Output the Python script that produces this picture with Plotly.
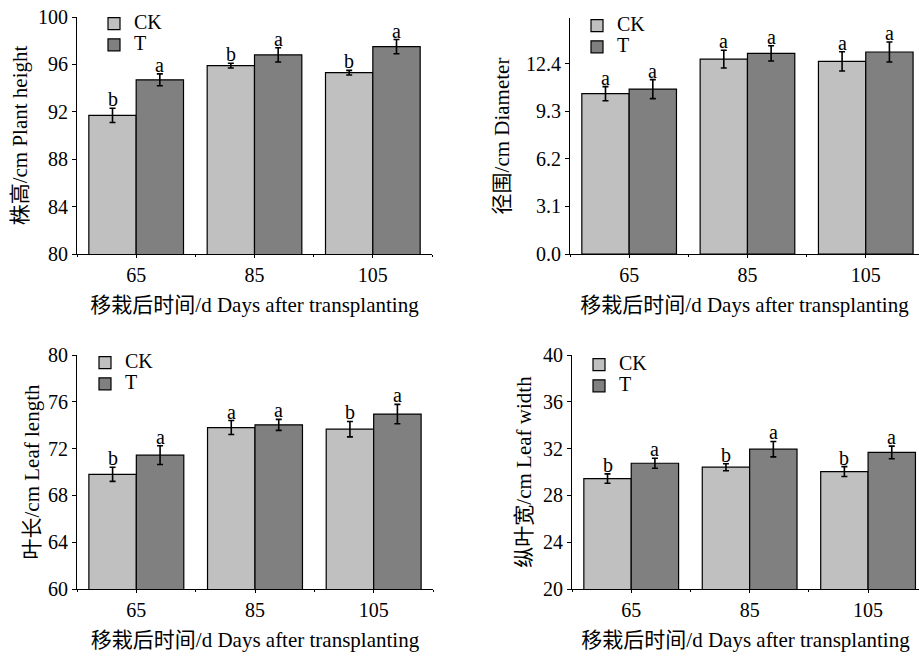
import plotly.graph_objects as go

# ---------------- data ----------------
days = ["65", "85", "105"]
series_names = ["CK", "T"]

height_ck = [91.7, 95.9, 95.3]
height_ck_err = [0.6, 0.2, 0.2]
height_t = [94.7, 96.8, 97.5]
height_t_err = [0.5, 0.6, 0.6]
height_ck_sig = ["b", "b", "b"]
height_t_sig = ["a", "a", "a"]

diam_ck = [10.46, 12.72, 12.57]
diam_ck_err = [0.46, 0.58, 0.63]
diam_t = [10.76, 13.09, 13.18]
diam_t_err = [0.62, 0.50, 0.65]
diam_ck_sig = ["a", "a", "a"]
diam_t_sig = ["a", "a", "a"]

len_ck = [69.8, 73.8, 73.66]
len_ck_err = [0.6, 0.6, 0.66]
len_t = [71.44, 74.03, 74.95]
len_t_err = [0.8, 0.47, 0.83]
len_ck_sig = ["b", "a", "b"]
len_t_sig = ["a", "a", "a"]

wid_ck = [29.44, 30.41, 30.04]
wid_ck_err = [0.4, 0.3, 0.42]
wid_t = [30.75, 31.95, 31.67]
wid_t_err = [0.43, 0.66, 0.54]
wid_ck_sig = ["b", "b", "b"]
wid_t_sig = ["a", "a", "a"]

y_titles = ["株高/cm Plant height", "径围/cm Diameter",
            "叶长/cm Leaf length", "纵叶宽/cm Leaf width"]
x_title = "移栽后时间/d Days after transplanting"

y_ticks_height = [80, 84, 88, 92, 96, 100]
y_ticks_diam = [0.0, 3.1, 6.2, 9.3, 12.4]
y_ticks_len = [60, 64, 68, 72, 76, 80]
y_ticks_wid = [20, 24, 28, 32, 36, 40]

# ---------------- styling ----------------
W, H = 919, 656
FONT = "Liberation Serif, 'Noto Sans CJK SC', serif"
C_CK = "#c0c0c0"
C_T = "#808080"

def px_x(p):
    return p / W

def px_y(p):
    return 1 - p / H

panels = [
    dict(ck=height_ck, cke=height_ck_err, t=height_t, te=height_t_err,
         cks=height_ck_sig, ts=height_t_sig, yt=y_titles[0], ticks=y_ticks_height,
         yrange=[80, 100], fmt=None, ystand=4,
         xdom=[77, 432], ydom=[254, 17], xrange=[-0.5, 2.5], legend=(94, 8)),
    dict(ck=diam_ck, cke=diam_ck_err, t=diam_t, te=diam_t_err,
         cks=diam_ck_sig, ts=diam_t_sig, yt=y_titles[1], ticks=y_ticks_diam,
         yrange=[0, 15.4], fmt=".1f", ystand=10,
         xdom=[570, 919], ydom=[254, 18], xrange=[-0.5, 2.45], legend=(577, 10)),
    dict(ck=len_ck, cke=len_ck_err, t=len_t, te=len_t_err,
         cks=len_ck_sig, ts=len_t_sig, yt=y_titles[2], ticks=y_ticks_len,
         yrange=[60, 80], fmt=None, ystand=2,
         xdom=[77, 433], ydom=[589, 355], xrange=[-0.5, 2.5], legend=(85, 347)),
    dict(ck=wid_ck, cke=wid_ck_err, t=wid_t, te=wid_t_err,
         cks=wid_ck_sig, ts=wid_t_sig, yt=y_titles[3], ticks=y_ticks_wid,
         yrange=[20, 40], fmt=None, ystand=5,
         xdom=[572, 919], ydom=[589, 355], xrange=[-0.5, 2.43], legend=(579, 349)),
]

fig = go.Figure()
xpos = list(range(len(days)))
annotations = []
layout_extra = {}

for i, p in enumerate(panels):
    n = "" if i == 0 else str(i + 1)
    xa, ya = "x" + n, "y" + n
    lg = "legend" + n
    for name, vals, errs, col in [(series_names[0], p["ck"], p["cke"], C_CK),
                                  (series_names[1], p["t"], p["te"], C_T)]:
        fig.add_trace(go.Bar(
            x=xpos, y=vals,
            name=f"<span style='font-size:20px'>{name}</span>",
            xaxis=xa, yaxis=ya, legend=lg,
            marker=dict(color=col, line=dict(color="black", width=1.2)),
            error_y=dict(type="data", array=errs, color="black", thickness=1.6, width=3),
            offsetgroup=name,
        ))
    # significance letters
    for j in xpos:
        for off, vals, errs, sig in [(-0.2, p["ck"], p["cke"], p["cks"]),
                                     (0.2, p["t"], p["te"], p["ts"])]:
            annotations.append(dict(
                x=j + off, y=vals[j] + errs[j], xref=xa, yref=ya,
                text=sig[j], showarrow=False, yanchor="bottom", yshift=-4,
                font=dict(family=FONT, size=20, color="black")))
    xd = [px_x(p["xdom"][0]), px_x(p["xdom"][1])]
    yd = [px_y(p["ydom"][0]), px_y(p["ydom"][1])]
    ticktext = [f"{v:.1f}" for v in p["ticks"]] if p["fmt"] else [str(v) for v in p["ticks"]]
    layout_extra["xaxis" + n] = dict(
        domain=xd, range=p["xrange"], anchor=ya, automargin=False,
        tickvals=xpos, ticktext=days, ticks="outside", ticklen=3, tickwidth=1,
        tickcolor="black", showline=True, linecolor="black", linewidth=1.2,
        showgrid=False, zeroline=False,
        minor=dict(ticks="outside", ticklen=2, tickcolor="black", tick0=0.5, dtick=1, showgrid=False),
        title=dict(text=x_title, font=dict(family=FONT, size=21, color="black"), standoff=12),
        tickfont=dict(family=FONT, size=20, color="black"),
    )
    layout_extra["yaxis" + n] = dict(
        domain=yd, range=p["yrange"], anchor=xa, automargin=False,
        tickvals=p["ticks"], ticktext=ticktext, ticks="outside", ticklen=4, tickwidth=1,
        tickcolor="black", showline=True, linecolor="black", linewidth=1.2,
        showgrid=False, zeroline=False,
        title=dict(text=p["yt"], font=dict(family=FONT, size=21, color="black"),
                   standoff=p["ystand"]),
        tickfont=dict(family=FONT, size=20, color="black"),
    )
    layout_extra[lg] = dict(
        x=px_x(p["legend"][0]), y=px_y(p["legend"][1]), xanchor="left", yanchor="top",
        bgcolor="rgba(0,0,0,0)", borderwidth=0, tracegroupgap=0,
        font=dict(family=FONT, size=14, color="black"),
        traceorder="normal",
    )

fig.update_layout(
    template="none",
    width=W, height=H, margin=dict(l=0, r=0, t=0, b=0),
    paper_bgcolor="white", plot_bgcolor="white",
    barmode="group", bargap=0.2, bargroupgap=0,
    font=dict(family=FONT, color="black"),
    annotations=annotations,
    **layout_extra,
)

fig.write_html("out.html", config={"displayModeBar": False},
               post_script="document.body.style.margin='0';")
